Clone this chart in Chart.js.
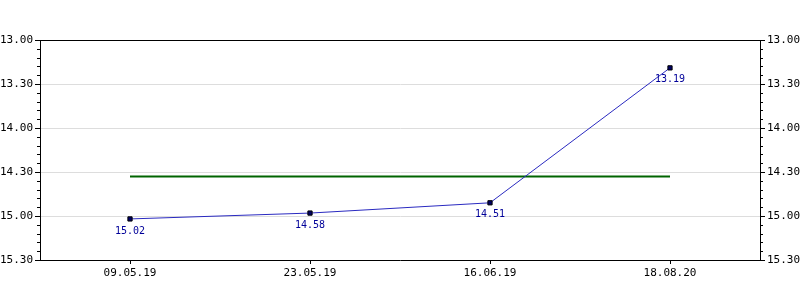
<!DOCTYPE html>
<html>
<head>
<meta charset="utf-8">
<script src="https://cdn.jsdelivr.net/npm/chart.js@4/dist/chart.umd.min.js"></script>
<style>
    html, body { margin: 0; padding: 0; background: #fff; }
    #wrap { width: 800px; height: 300px; position: relative; }
</style>
</head>
<body>
<div id="wrap"><canvas id="timeChart"></canvas></div>
<script>
// Race dates and finishing times (mm.ss)
const dates = ['09.05.19', '23.05.19', '16.06.19', '18.08.20'];
const times = ['15.02', '14.58', '14.51', '13.19'];
const avgTimes = ['14.33', '14.33', '14.33', '14.33'];   // green reference line

// y axis range in mm.ss (axis is reversed, fastest on top)
const axisMin = '13.00';
const axisMax = '15.30';

// mm.ss -> minutes
function toMinutes(s) {
    const parts = s.split('.');
    return parseInt(parts[0], 10) + parseInt(parts[1], 10) / 60;
}

// minutes -> mm.ss
function toLabel(v) {
    let m = Math.floor(v + 1e-6);
    let s = Math.round((v - m) * 60);
    if (s === 60) { m += 1; s = 0; }
    return m + '.' + String(s).padStart(2, '0');
}

const FONT = "'DejaVu Sans Mono', monospace";

// minor ticks (every 6 sec), top border, point labels
const extras = {
    id: 'extras',
    afterDraw(chart) {
        const ctx = chart.ctx;
        const area = chart.chartArea;
        ctx.save();
        ctx.strokeStyle = '#000';
        ctx.lineWidth = 1;

        // top border
        ctx.beginPath();
        ctx.moveTo(area.left, area.top + 0.5);
        ctx.lineTo(area.right, area.top + 0.5);
        ctx.stroke();

        // minor ticks on both y axes
        const ys = chart.scales.y;
        const lo = toMinutes(axisMin), hi = toMinutes(axisMax);
        for (let v = lo; v <= hi + 1e-6; v += 0.1) {
            const py = Math.round(ys.getPixelForValue(v)) + 0.5;
            ctx.beginPath();
            ctx.moveTo(area.left - 3, py);
            ctx.lineTo(area.left, py);
            ctx.moveTo(area.right, py);
            ctx.lineTo(area.right + 3, py);
            ctx.stroke();
        }

        // value labels under the points
        const meta = chart.getDatasetMeta(0);
        ctx.fillStyle = '#000099';
        ctx.font = '10px ' + FONT;
        ctx.textAlign = 'center';
        ctx.textBaseline = 'middle';
        meta.data.forEach((pt, i) => {
            ctx.fillText(times[i], pt.x, pt.y + 12);
        });
        ctx.restore();
    }
};

const yAxis = (pos) => ({
    type: 'linear',
    position: pos,
    reverse: true,
    min: toMinutes(axisMin),
    max: toMinutes(axisMax),
    afterFit(scale) { scale.width = 40; },
    border: { color: '#000', width: 1 },
    grid: {
        drawOnChartArea: pos === 'left',
        color: '#dddddd',
        tickColor: '#000',
        tickLength: 5
    },
    ticks: {
        stepSize: 0.5,
        padding: 2,
        color: '#000',
        font: { family: FONT, size: 11 },
        callback: (v) => toLabel(v)
    }
});

new Chart(document.getElementById('timeChart'), {
    type: 'line',
    data: {
        labels: dates,
        datasets: [
            {
                data: times.map(toMinutes),
                borderColor: '#2a2ac0',
                borderWidth: 1,
                pointStyle: 'rect',
                pointRadius: 3,
                pointBackgroundColor: '#000066',
                pointBorderColor: '#000',
                pointBorderWidth: 1,
                tension: 0
            },
            {
                data: avgTimes.map(toMinutes),
                borderColor: '#006400',
                borderWidth: 2,
                pointRadius: 0,
                tension: 0
            }
        ]
    },
    options: {
        responsive: true,
        maintainAspectRatio: false,
        animation: false,
        layout: { padding: { top: 40, left: 0, right: 0, bottom: 0 } },
        plugins: {
            legend: { display: false },
            tooltip: { enabled: false }
        },
        scales: {
            x: {
                offset: true,
                afterFit(scale) { scale.height = 40; },
                border: { color: '#000', width: 1 },
                grid: { drawOnChartArea: false, tickColor: '#000', tickLength: 4 },
                ticks: {
                    padding: 3,
                    maxRotation: 0,
                    color: '#000',
                    font: { family: FONT, size: 11 }
                }
            },
            y: yAxis('left'),
            y2: yAxis('right')
        }
    },
    plugins: [extras]
});
</script>
</body>
</html>
